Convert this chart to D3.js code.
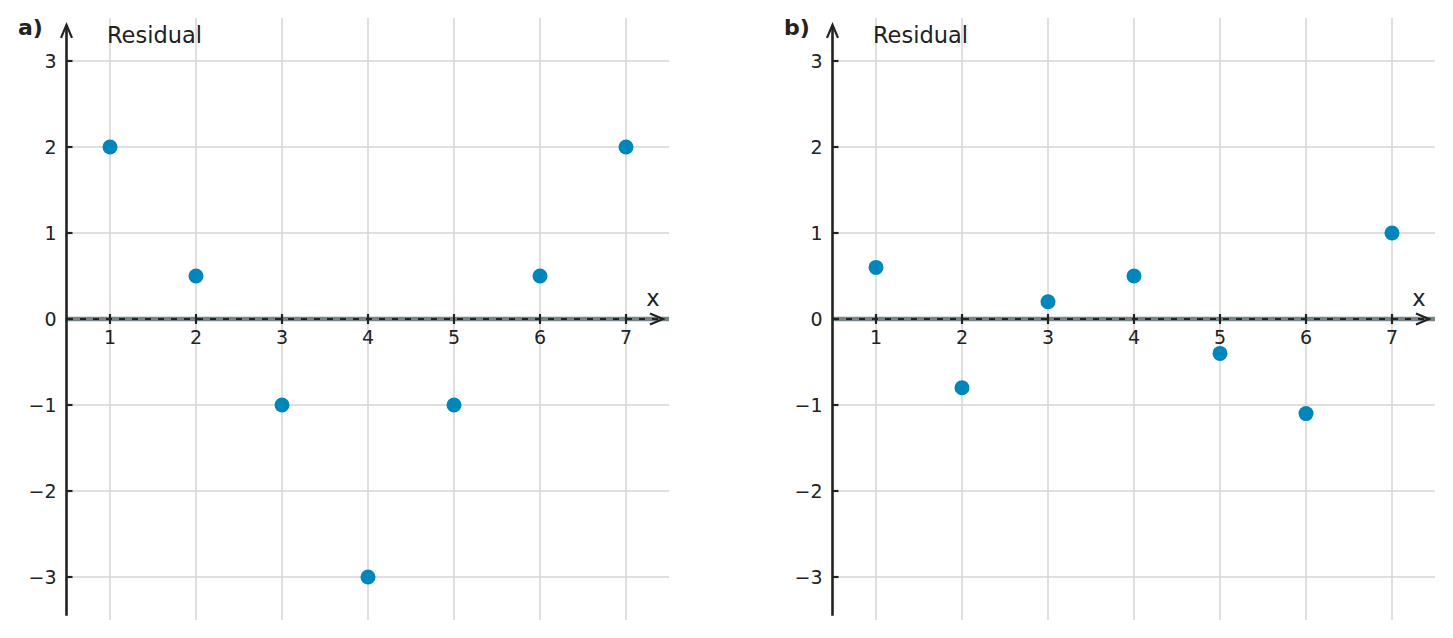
<!DOCTYPE html>
<html>
<head>
<meta charset="utf-8">
<script src="https://cdn.jsdelivr.net/npm/d3@7"></script>
<style>
  body { margin: 0; background: #fff; }
  text { font-family: "DejaVu Sans", sans-serif; fill: #222; }
</style>
</head>
<body>
<div id="wrapper"></div>
<script>
const xValues = [1, 2, 3, 4, 5, 6, 7];
const residualsA = [2, 0.5, -1, -3, -1, 0.5, 2];
const residualsB = [0.6, -0.8, 0.2, 0.5, -0.4, -1.1, 1.0];
const yTicks = [-3, -2, -1, 0, 1, 2, 3];
const panelLabels = ["a)", "b)"];
const yLabel = "Residual";
const xLabel = "x";

const width = 1453, height = 638;
const svg = d3.select("#wrapper").append("svg")
  .attr("width", width).attr("height", height);

function drawPanel(offsetX, label, values) {
  const g = svg.append("g").attr("transform", `translate(${offsetX},0)`);
  const x = d3.scaleLinear().domain([0.5, 7.5]).range([67, 669]);
  const y = d3.scaleLinear().domain([-3, 3]).range([577, 61]);

  // grid
  g.append("g").selectAll("line").data(xValues).join("line")
    .attr("x1", d => x(d)).attr("x2", d => x(d))
    .attr("y1", y(3.5)).attr("y2", y(-3.5))
    .attr("stroke", "#d5d5d5").attr("stroke-width", 1.5);
  g.append("g").selectAll("line").data(yTicks).join("line")
    .attr("x1", x(0.5)).attr("x2", x(7.5))
    .attr("y1", d => y(d)).attr("y2", d => y(d))
    .attr("stroke", "#d5d5d5").attr("stroke-width", 1.5);

  // x axis: gray band + dashed black line + arrow
  g.append("line")
    .attr("x1", x(0.5)).attr("x2", x(7.5))
    .attr("y1", y(0)).attr("y2", y(0))
    .attr("stroke", "#78868c").attr("stroke-width", 4.5);
  g.append("line")
    .attr("x1", x(0.5)).attr("x2", x(7.45))
    .attr("y1", y(0)).attr("y2", y(0))
    .attr("stroke", "#222").attr("stroke-width", 2)
    .attr("stroke-dasharray", "6,7");
  const ax = x(7.43), ay = y(0);
  g.append("path")
    .attr("d", `M${ax - 13},${ay - 5.5} L${ax},${ay} L${ax - 13},${ay + 5.5}`)
    .attr("fill", "none").attr("stroke", "#222").attr("stroke-width", 2.2);

  // x ticks
  g.append("g").selectAll("line").data(xValues).join("line")
    .attr("x1", d => x(d)).attr("x2", d => x(d))
    .attr("y1", y(0) - 5).attr("y2", y(0) + 5)
    .attr("stroke", "#222").attr("stroke-width", 2.2);
  g.append("g").selectAll("text").data(xValues).join("text")
    .attr("x", d => x(d)).attr("y", y(0) + 25)
    .attr("text-anchor", "middle").attr("font-size", 19)
    .text(d => d);

  // y axis with arrow
  const yx = x(0.5) - 0.5;
  g.append("line")
    .attr("x1", yx).attr("x2", yx)
    .attr("y1", y(-3.45)).attr("y2", y(3.42))
    .attr("stroke", "#222").attr("stroke-width", 2.6);
  const ty = y(3.42);
  g.append("path")
    .attr("d", `M${yx - 5.5},${ty + 13} L${yx},${ty} L${yx + 5.5},${ty + 13}`)
    .attr("fill", "none").attr("stroke", "#222").attr("stroke-width", 2.2);

  // y ticks
  g.append("g").selectAll("line").data(yTicks).join("line")
    .attr("x1", yx).attr("x2", yx + 6)
    .attr("y1", d => y(d)).attr("y2", d => y(d))
    .attr("stroke", "#222").attr("stroke-width", 2.2);
  g.append("g").selectAll("text").data(yTicks).join("text")
    .attr("x", yx - 10).attr("y", d => y(d) + 6.5)
    .attr("text-anchor", "end").attr("font-size", 19)
    .text(d => d < 0 ? "\u2212" + Math.abs(d) : d);

  // labels
  g.append("text").attr("x", 107).attr("y", 43)
    .attr("font-size", 22.5).text(yLabel);
  g.append("text").attr("x", 653).attr("y", 306)
    .attr("text-anchor", "middle").attr("font-size", 22.5).text(xLabel);
  g.append("text").attr("x", 18).attr("y", 35)
    .attr("font-size", 22).attr("font-weight", "bold").text(label);

  // points
  g.append("g").selectAll("circle").data(values).join("circle")
    .attr("cx", (d, i) => x(xValues[i]))
    .attr("cy", d => y(d))
    .attr("r", 7.5)
    .attr("fill", "#0086bb");
}

drawPanel(0, panelLabels[0], residualsA);
drawPanel(766, panelLabels[1], residualsB);
</script>
</body>
</html>
